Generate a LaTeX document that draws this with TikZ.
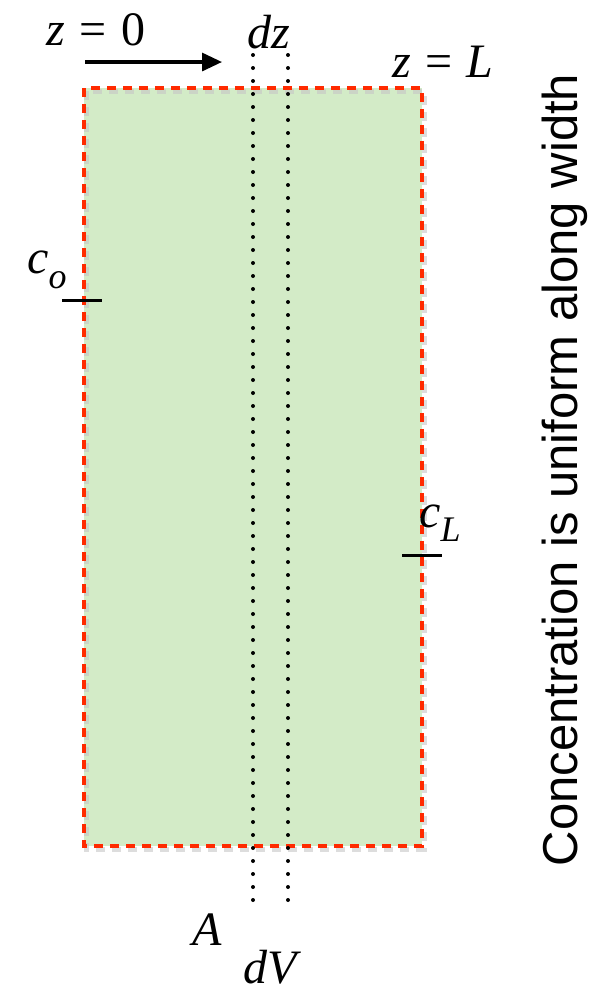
\documentclass[tikz,border=0pt]{standalone}
\usepackage{fontspec}
\setmainfont{Liberation Serif}
\newfontfamily\labelsans{Liberation Sans}
\usetikzlibrary{arrows.meta}
\definecolor{boxfill}{HTML}{D3EBC7}
\definecolor{boxred}{HTML}{FF2A00}
\tikzset{
  mathlabel/.style={inner sep=0pt, font=\fontsize{24}{28}\selectfont},
  dotline/.style={line width=2pt, line cap=round, dash pattern=on 0pt off 6.5pt},
  tickmark/.style={line width=1.5pt},
}
\newcommand{\mysub}[1]{\raisebox{-0.3em}{\fontsize{18}{20}\selectfont\textit{#1}}}
\begin{document}
\begin{tikzpicture}[x=0.5pt,y=-0.5pt]
\useasboundingbox (0,0) rectangle (606,993);
% box
\fill[boxfill] (84,88) rectangle (422,846);
\draw[gray!45, line width=2.5pt, dash pattern=on 4.5pt off 3.5pt, opacity=0.6] (86,91) rectangle (424,849);
\draw[boxred, line width=2pt, dash pattern=on 4.5pt off 3.5pt] (84,88) rectangle (422,846);
% dotted lines
\coordinate (d1t) at (253,55);
\coordinate (d1b) at (253,912);
\coordinate (d2t) at (288,55);
\coordinate (d2b) at (288,912);
\draw[dotline] (d1t) -- (d1b);
\draw[dotline] (d2t) -- (d2b);
% arrow
\coordinate (as) at (85,62);
\coordinate (ae) at (222,62);
\draw[line width=1.6pt, -{Triangle[length=10pt,width=9pt]}] (as) -- (ae);
% labels
\node[mathlabel] (z0) at (96,30) {\textit{z}\hspace{0.3em}=\hspace{0.3em}0};
\node[mathlabel] (dz) at (269,32) {\textit{dz}};
\node[mathlabel] (zL) at (443,62) {\textit{z}\hspace{0.3em}=\hspace{0.3em}\textit{L}};
\node[mathlabel] (co) at (47,270) {\textit{c}\mysub{o}};
\node[mathlabel] (cL) at (440,523) {\textit{c}\mysub{L}};
\node[mathlabel] (A) at (207,930) {\textit{A}};
\node[mathlabel] (dV) at (272,967) {\textit{dV}};
% ticks
\coordinate (t1a) at (62,300);
\coordinate (t1b) at (102,300);
\draw[tickmark] (t1a) -- (t1b);
\coordinate (t2a) at (402,555);
\coordinate (t2b) at (442,555);
\draw[tickmark] (t2a) -- (t2b);
% side text
\node[rotate=90, inner sep=0pt, font=\labelsans\fontsize{24.5}{28}\selectfont] (side) at (565,470) {Concentration is uniform along width};
\end{tikzpicture}
\end{document}
